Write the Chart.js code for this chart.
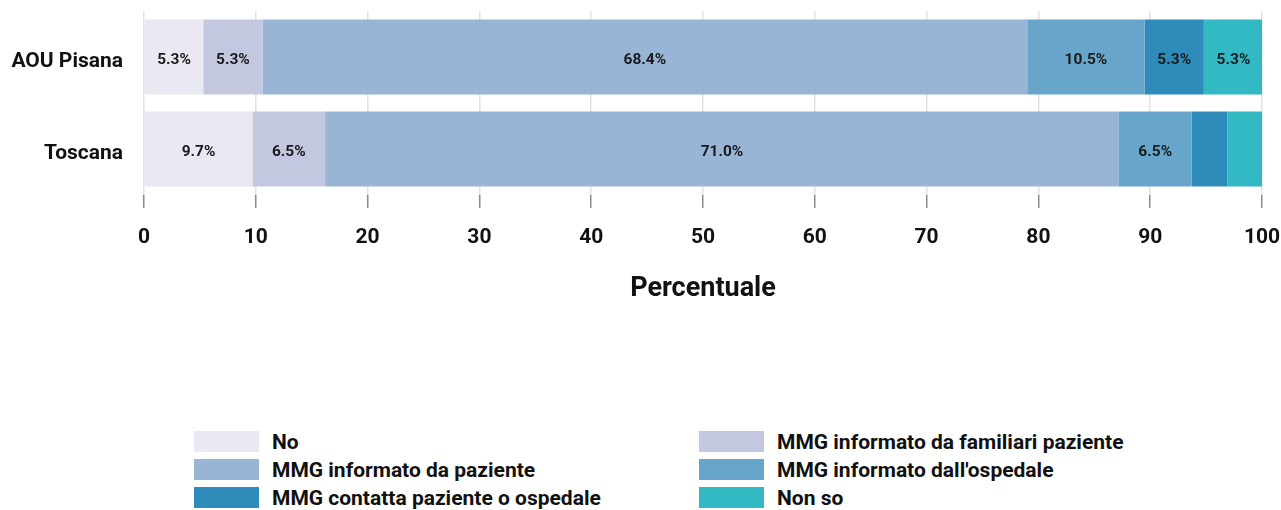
<!DOCTYPE html>
<html>
<head>
<meta charset="utf-8">
<script src="https://cdn.jsdelivr.net/npm/chart.js@4.4.1/dist/chart.umd.min.js"></script>
<style>
  body { margin: 0; background: #fff; font-family: Roboto, sans-serif; }
  #wrap { position: relative; width: 1281px; height: 510px; }
  #box { position: absolute; left: 0; top: 0; width: 1281px; height: 330px; }
  #legend { position: absolute; left: 194px; top: 431px; display: grid;
    grid-template-columns: 505px 520px; row-gap: 7px; }
  .item { display: flex; align-items: center; height: 21px; font-weight: 700;
    font-size: 21px; color: #111; }
  .sw { width: 65px; height: 21px; margin-right: 13px; }
</style>
</head>
<body>
<div id="wrap">
  <div id="box"><canvas id="myChart"></canvas></div>
  <div id="legend"></div>
</div>
<script>
// data
var categories = ["AOU Pisana", "Toscana"];
var seriesNames = [
  "No",
  "MMG informato da familiari paziente",
  "MMG informato da paziente",
  "MMG informato dall'ospedale",
  "MMG contatta paziente o ospedale",
  "Non so"
];
var no = [5.3, 9.7];
var familiari = [5.3, 6.5];
var paziente = [68.4, 71.0];
var ospedale = [10.5, 6.5];
var contatta = [5.3, 3.2];
var nonSo = [5.3, 3.2];
var xTicks = [0, 10, 20, 30, 40, 50, 60, 70, 80, 90, 100];

var colors = ["#e9e8f3", "#c3c7df", "#99b5d6", "#68a5ca", "#2e8bba", "#33b9c3"];
var values = [no, familiari, paziente, ospedale, contatta, nonSo];

var datasets = [];
for (let i = 0; i < seriesNames.length; i++) {
  datasets.push({
    label: seriesNames[i],
    data: values[i],
    backgroundColor: colors[i],
    borderWidth: 0,
    barPercentage: 0.815,
    categoryPercentage: 1
  });
}

// labels inside segments (only the wide ones)
var segLabels = {
  id: "segLabels",
  afterDatasetsDraw: chart => {
    var ctx = chart.ctx;
    ctx.save();
    ctx.font = "700 15.5px Roboto";
    ctx.fillStyle = "#1a1a1a";
    ctx.textAlign = "center";
    ctx.textBaseline = "middle";
    chart.data.datasets.forEach((ds, i) => {
      var meta = chart.getDatasetMeta(i);
      meta.data.forEach((bar, j) => {
        var v = ds.data[j];
        if (v < 5) return;
        ctx.fillText(v.toFixed(1) + "%", (bar.x + bar.base) / 2, bar.y + 3);
      });
    });
    ctx.restore();
  }
};

var ctx = document.getElementById("myChart");
var chart = new Chart(ctx, {
  type: "bar",
  data: { labels: categories, datasets: datasets },
  plugins: [segLabels],
  options: {
    indexAxis: "y",
    responsive: true,
    maintainAspectRatio: false,
    animation: false,
    layout: { padding: { top: 11, right: 19, left: 0, bottom: 0 } },
    plugins: { legend: { display: false }, tooltip: { enabled: false } },
    scales: {
      x: {
        stacked: true,
        min: 0,
        max: 100,
        afterBuildTicks: scale => {
          scale.ticks = xTicks.map(v => ({ value: v }));
        },
        afterFit: scale => {
          scale.height = 135;
          scale.paddingLeft = 0;
          scale.paddingRight = 0;
        },
        grid: { color: "#e2e2e2", lineWidth: 1.5, tickColor: "#8c8c8c", tickLength: 13 },
        border: { display: false },
        ticks: { padding: 17, color: "#111", font: { family: "Roboto", size: 21, weight: "700" } },
        title: {
          display: true,
          text: "Percentuale",
          color: "#111",
          font: { family: "Roboto", size: 27, weight: "700" },
          padding: { top: 0, bottom: 25 }
        }
      },
      y: {
        stacked: true,
        afterFit: scale => {
          scale.width = 144;
          scale.paddingTop = 0;
          scale.paddingBottom = 0;
        },
        grid: { display: false },
        border: { display: false },
        ticks: { padding: 13, labelOffset: 5, color: "#111", font: { family: "Roboto", size: 21, weight: "700" } }
      }
    }
  }
});

// html legend in two columns
var legend = document.getElementById("legend");
chart.data.datasets.forEach(ds => {
  legend.insertAdjacentHTML("beforeend",
    '<div class="item"><span class="sw" style="background:' + ds.backgroundColor +
    '"></span>' + ds.label + "</div>");
});
</script>
</body>
</html>
